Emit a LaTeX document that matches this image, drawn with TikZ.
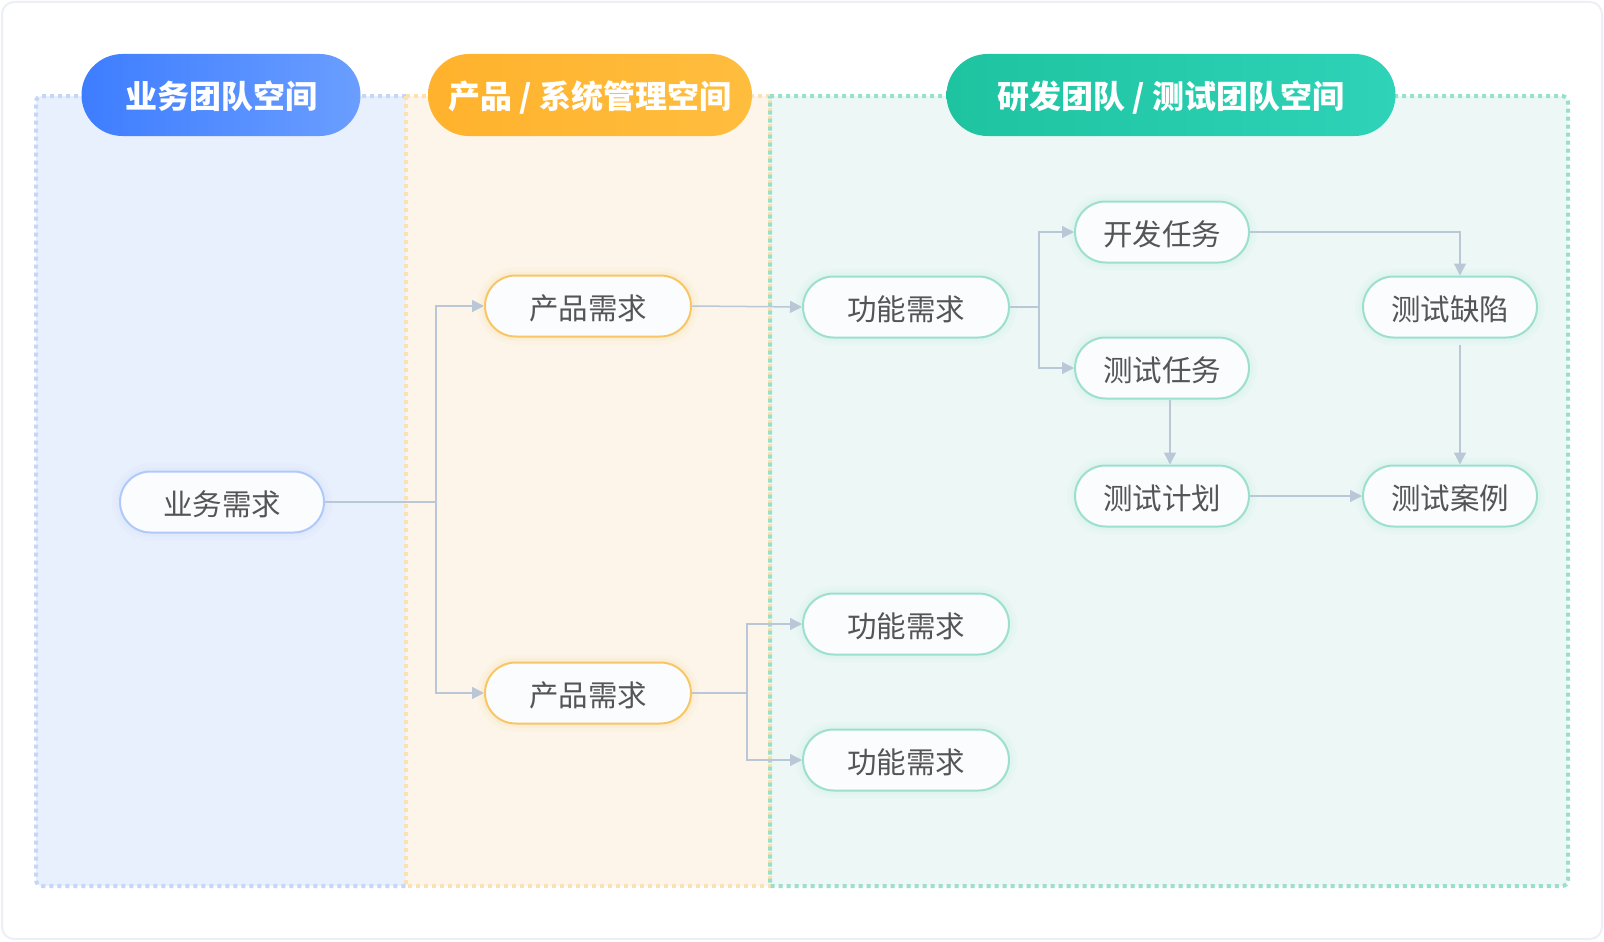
\documentclass[tikz,border=0pt]{standalone}
\usepackage{fontspec}
\newfontfamily\cjk{Noto Sans CJK SC}
\usetikzlibrary{arrows.meta}
\definecolor{cardline}{HTML}{ECEFF5}
\definecolor{bfill}{HTML}{E8EFFD}
\definecolor{bline}{HTML}{C6D6FA}
\definecolor{ofill}{HTML}{FDF5E9}
\definecolor{oline}{HTML}{FCE2B0}
\definecolor{gfill}{HTML}{EDF8F6}
\definecolor{gline}{HTML}{9ADFCC}
\definecolor{hbA}{HTML}{3D7DFF}
\definecolor{hbB}{HTML}{6A9EFF}
\definecolor{hoA}{HTML}{FFB22C}
\definecolor{hoB}{HTML}{FFBD3E}
\definecolor{hgA}{HTML}{1EC3A0}
\definecolor{hgB}{HTML}{2ED3B8}
\definecolor{nb}{HTML}{AFC9FB}
\definecolor{no}{HTML}{F8C665}
\definecolor{ng}{HTML}{9CDFCE}
\definecolor{nfill}{HTML}{FBFCFE}
\definecolor{txt}{HTML}{555555}
\definecolor{conn}{HTML}{BAC7D7}
\begin{document}
\begin{tikzpicture}[x=1pt,y=-1pt,
  box/.style={draw=#1, rounded corners=30.5pt, minimum height=61pt, fill=nfill,
    line width=2pt, font=\cjk\fontsize{29.5}{31}\selectfont, text=txt, inner sep=0pt,
    text height=27pt, text depth=0pt,
    preaction={draw=#1, draw opacity=0.05, line width=16pt},
    preaction={draw=#1, draw opacity=0.08, line width=8pt}},
  hdr/.style={rounded corners=41pt, minimum height=82pt, inner sep=0pt,
    text height=26pt, text depth=0pt,
    font=\cjk\bfseries\fontsize{32}{34}\selectfont, text=white},
  dotline/.style={line width=4pt, dash pattern=on 4pt off 4pt},
  link/.style={draw=conn, line width=1.5pt},
  arr/.style={link, -{Triangle[length=12pt,width=12pt]}}]
\useasboundingbox (0,0) rectangle (1604,942);
% card
\draw[cardline, line width=2pt, fill=white, rounded corners=12pt] (2,2) rectangle (1602,939);
% regions
\fill[bfill] (406,96) [rounded corners=6pt]-- (36,96) -- (36,886) [sharp corners]-- (406,886) -- cycle;
\fill[ofill] (406,96) rectangle (770,886);
\fill[gfill] (770,96) [rounded corners=6pt]-- (1568,96) -- (1568,886) [sharp corners]-- (770,886) -- cycle;
\draw[bline, dotline] (406,96) [rounded corners=6pt]-- (36,96) -- (36,886) [sharp corners]-- (406,886);
\draw[oline, dotline] (406,96) rectangle (770,886);
\draw[gline, dotline] (770,96) [rounded corners=6pt]-- (1568,96) -- (1568,886) [sharp corners]-- (770,886) -- cycle;
% headers
\node[hdr, minimum width=279pt, left color=hbA, right color=hbB] (h1) at (221,95) {业务团队空间};
\node[hdr, minimum width=324pt, left color=hoA, right color=hoB] (h2) at (590,95) {产品 / 系统管理空间};
\node[hdr, minimum width=449pt, left color=hgA, right color=hgB] (h3) at (1171,95) {研发团队 / 测试团队空间};
% nodes
\node[box=nb, minimum width=204pt] (ywxq) at (222,502) {业务需求};
\node[box=no, minimum width=206pt] (cp1) at (588,306) {产品需求};
\node[box=no, minimum width=206pt] (cp2) at (588,693) {产品需求};
\node[box=ng, minimum width=206pt] (gn1) at (906,307) {功能需求};
\node[box=ng, minimum width=206pt] (gn2) at (906,624) {功能需求};
\node[box=ng, minimum width=206pt] (gn3) at (906,760) {功能需求};
\node[box=ng, minimum width=174pt] (kf) at (1162,232) {开发任务};
\node[box=ng, minimum width=174pt] (csrw) at (1162,368) {测试任务};
\node[box=ng, minimum width=174pt] (csjh) at (1162,496) {测试计划};
\node[box=ng, minimum width=174pt] (csqx) at (1450,307) {测试缺陷};
\node[box=ng, minimum width=174pt] (csal) at (1450,496) {测试案例};
% junctions
\coordinate (j1) at (436,502);
\coordinate (j2) at (747,693);
\coordinate (j3) at (1039,307);
% connectors
\draw[link] (ywxq.east) -- (j1);
\draw[arr] (j1) |- (cp1.west);
\draw[arr] (j1) |- (cp2.west);
\draw[arr] (cp1.east) -- (gn1.west);
\draw[link] (cp2.east) -- (j2);
\draw[arr] (j2) |- (gn2.west);
\draw[arr] (j2) |- (gn3.west);
\draw[link] (gn1.east) -- (j3);
\draw[arr] (j3) |- (kf.west);
\draw[arr] (j3) |- (csrw.west);
\draw[arr] (kf.east) -| ([xshift=10pt]csqx.north);
\draw[arr, shorten <=6pt] ([xshift=10pt]csqx.south) -- ([xshift=10pt]csal.north);
\draw[arr] ([xshift=8pt]csrw.south) -- ([xshift=8pt]csjh.north);
\draw[arr] (csjh.east) -- (csal.west);
\end{tikzpicture}
\end{document}
